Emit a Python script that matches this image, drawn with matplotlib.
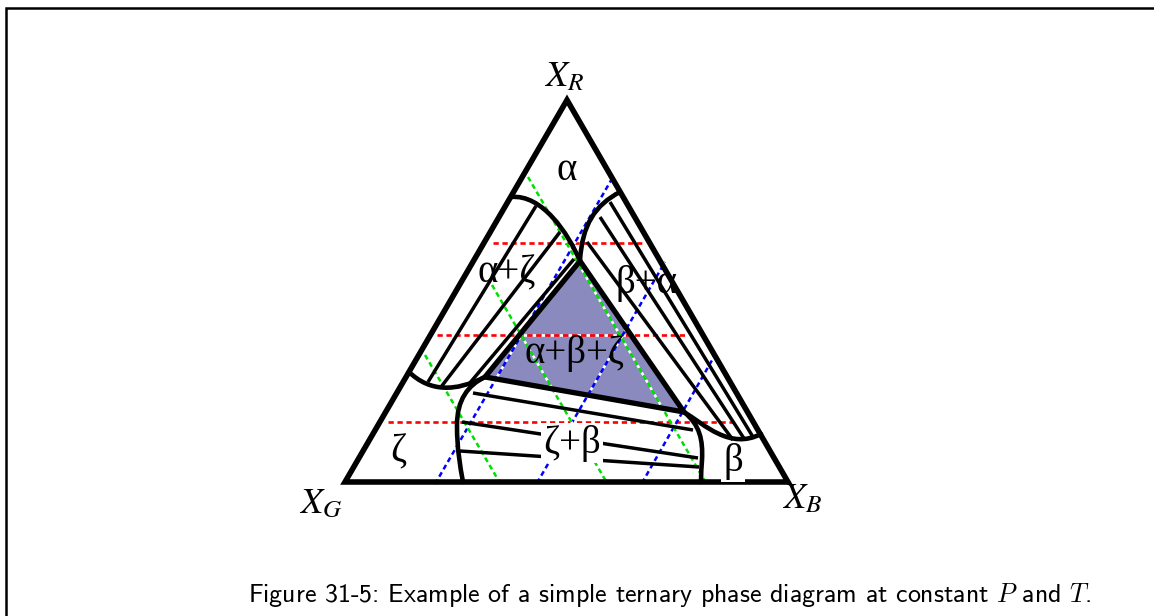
import matplotlib
matplotlib.use('Agg')
import matplotlib.pyplot as plt
from matplotlib.path import Path
from matplotlib.patches import PathPatch, Polygon

# ---- data (pixel coordinates of the drawing) ----
outer_triangle = [(345, 482), (567, 100), (788, 482)]
three_phase = [(580, 261), (485, 377), (684, 412)]

alpha_zeta_top = [(511, 197), (542, 194), (568, 233), (580, 261)]
alpha_beta_top = [(620, 192), (595, 205), (582, 225), (580, 261)]
zeta_alpha_bottom = [(409, 372), (430, 392), (455, 392), (485, 377)]
zeta_beta_left = [(485, 377), (468, 385), (457, 400), (457, 425),
                  (457, 450), (460, 465), (463, 482)]
beta_zeta_right = [(684, 412), (700, 425), (703, 440), (702, 460),
                   (701.5, 467), (701, 475), (701, 482)]
beta_alpha_bottom = [(684, 412), (705, 425), (730, 450), (761, 434)]

alpha_zeta_ties = [((536, 206), (428, 382)), ((560, 232), (441, 387)),
                   ((574, 259), (469, 384))]
beta_alpha_ties = [((610, 202), (753, 437)), ((600, 217), (745, 440)),
                   ((587, 242), (733, 440))]
zeta_beta_ties = [((473, 393), (693, 430)), ((462, 422), (698, 458)),
                  ((460, 451), (699, 467))]

red_lines = [((493, 243), (642, 243)), ((437, 335), (688, 335)),
             ((388, 422), (737, 422))]
blue_lines = [((435, 484), (613, 177)), ((537, 483), (665, 262)),
              ((642, 483), (715, 355))]
green_lines = [((528, 177), (706, 483)), ((492, 285), (607, 483)),
               ((425, 355), (500, 483))]

phase_labels = ['α', 'α+ζ', 'β+α', 'α+β+ζ', 'ζ', 'ζ+β', 'β']
phase_label_pos = [(567, 170), (507, 273), (647, 283), (575, 353),
                   (398, 452), (572, 443), (733, 462)]
phase_label_bg = [False, False, False, False, False, True, True]

vertex_labels = [r'$X_R$', r'$X_G$', r'$X_B$']
vertex_label_pos = [(544, 86), (299, 513), (782, 508)]

caption = r'Figure 31-5: Example of a simple ternary phase diagram at constant $P$ and $T$.'

# ---- drawing ----
W, H = 1154, 616
fig = plt.figure(figsize=(W / 100, H / 100), dpi=100)
ax = fig.add_axes([0, 0, 1, 1])
ax.set_xlim(0, W)
ax.set_ylim(H, 0)
ax.axis('off')

# frame
ax.plot([6, 6, W], [H, 7.5, 7.5], color='black', lw=1.8, solid_capstyle='butt',
        solid_joinstyle='miter', zorder=1)

# three-phase fill
ax.add_patch(Polygon(three_phase, closed=True, facecolor='#8a8abe',
                     edgecolor='none', zorder=1))

# dashed lines
for (p, q) in red_lines:
    ax.plot([p[0], q[0]], [p[1], q[1]], color='#ff0000', lw=1.9,
            dashes=(2.0, 1.4), gapcolor='white', zorder=2)
for (p, q) in blue_lines:
    ax.plot([p[0], q[0]], [p[1], q[1]], color='#0000ff', lw=1.8,
            dashes=(2.0, 1.4), gapcolor='white', zorder=2)
for (p, q) in green_lines:
    ax.plot([p[0], q[0]], [p[1], q[1]], color='#00e000', lw=1.8,
            dashes=(2.0, 1.4), gapcolor='white', zorder=2)


def bez(points, lw):
    codes = [Path.MOVETO] + [Path.CURVE4] * (len(points) - 1)
    ax.add_patch(PathPatch(Path(points, codes), facecolor='none',
                           edgecolor='black', lw=lw, capstyle='round',
                           zorder=3))


for c in [alpha_zeta_top, alpha_beta_top, zeta_alpha_bottom, zeta_beta_left,
          beta_zeta_right, beta_alpha_bottom]:
    bez(c, 3.3)

for ties in [alpha_zeta_ties, beta_alpha_ties, zeta_beta_ties]:
    for (p, q) in ties:
        ax.plot([p[0], q[0]], [p[1], q[1]], color='black', lw=2.5,
                solid_capstyle='butt', zorder=3)

ax.add_patch(Polygon(three_phase, closed=True, facecolor='none',
                     edgecolor='black', lw=3.8, joinstyle='round', zorder=3))
ax.add_patch(Polygon(outer_triangle, closed=True, facecolor='none',
                     edgecolor='black', lw=4.0, joinstyle='miter', zorder=4))

for txt, pos, bg in zip(phase_labels, phase_label_pos, phase_label_bg):
    kw = {}
    if bg:
        kw['bbox'] = dict(facecolor='white', edgecolor='none', pad=1.5)
    ax.text(pos[0], pos[1], txt, fontsize=28, family='Liberation Serif',
            ha='center', va='center', zorder=5, **kw)

for txt, pos in zip(vertex_labels, vertex_label_pos):
    ax.text(pos[0], pos[1], txt, fontsize=26, math_fontfamily='stix',
            ha='left', va='baseline', zorder=5)

ax.text(248, 602, caption, fontsize=18.7, family='cmss10',
        math_fontfamily='cm', ha='left', va='baseline')

fig.savefig('out.png', dpi=100)
